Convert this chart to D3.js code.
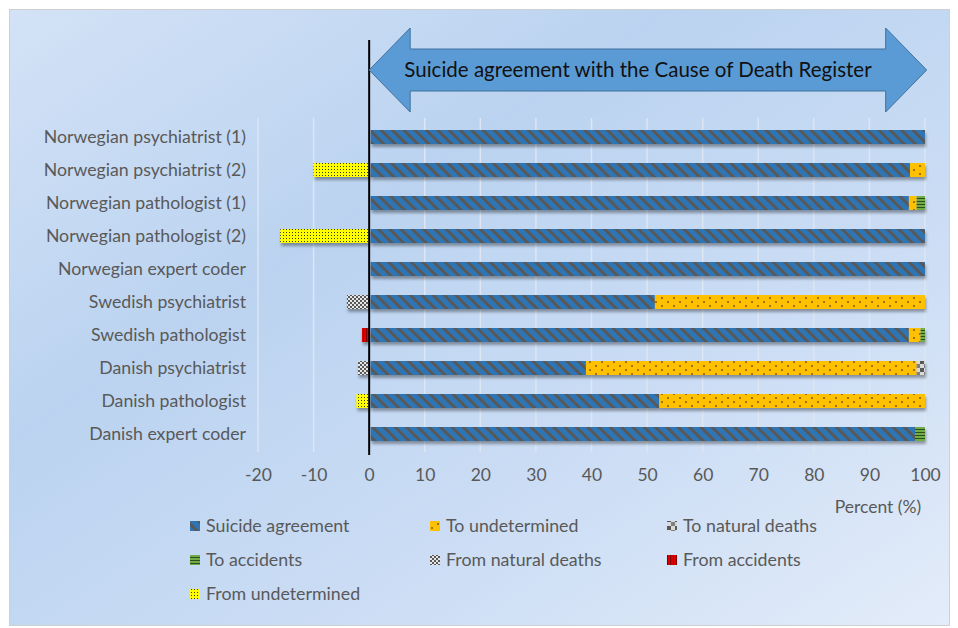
<!DOCTYPE html>
<html>
<head>
<meta charset="utf-8">
<script src="https://cdn.jsdelivr.net/npm/d3@7"></script>
<style>
  html, body { margin: 0; padding: 0; background: #ffffff; }
  svg { display: block; }
  text { font-family: Lato, "Open Sans", "Liberation Sans", sans-serif; }
</style>
</head>
<body>
<svg id="chart" width="958" height="628"></svg>
<script>
// ---------- DATA ----------
const categories = [
  "Norwegian psychiatrist (1)",
  "Norwegian psychiatrist (2)",
  "Norwegian pathologist (1)",
  "Norwegian pathologist (2)",
  "Norwegian expert coder",
  "Swedish psychiatrist",
  "Swedish pathologist",
  "Danish psychiatrist",
  "Danish pathologist",
  "Danish expert coder"
];
const suicideAgreement = [100, 97.3, 97.1, 100, 100, 51.4, 97.1, 39.0, 52.2, 98.2];
const toUndetermined   = [0, 2.7, 1.4, 0, 0, 48.6, 2.1, 59.5, 47.8, 0];
const toNaturalDeaths  = [0, 0, 0, 0, 0, 0, 0, 1.5, 0, 0];
const toAccidents      = [0, 0, 1.5, 0, 0, 0, 0.8, 0, 0, 1.8];
const fromNaturalDeaths = [0, 0, 0, 0, 0, -4, 0, -2, 0, 0];
const fromAccidents     = [0, 0, 0, 0, 0, 0, -1.3, 0, 0, 0];
const fromUndetermined  = [0, -10, 0, -16, 0, 0, 0, 0, -2.3, 0];
const seriesNames = ["Suicide agreement", "To undetermined", "To natural deaths",
  "To accidents", "From natural deaths", "From accidents", "From undetermined"];
const tickValues = [-20, -10, 0, 10, 20, 30, 40, 50, 60, 70, 80, 90, 100];
const xAxisTitle = "Percent (%)";
const arrowTitle = "Suicide agreement with the Cause of Death Register";

// ---------- SETUP ----------
const svg = d3.select("#chart");
const defs = svg.append("defs");

// background gradient
const bg = defs.append("linearGradient").attr("id", "bgGrad")
  .attr("x1", "0").attr("y1", "0").attr("x2", "1").attr("y2", "1");
bg.append("stop").attr("offset", "0").attr("stop-color", "#d3e2f6");
bg.append("stop").attr("offset", "0.35").attr("stop-color", "#bbd3f0");
bg.append("stop").attr("offset", "0.7").attr("stop-color", "#cddef5");
bg.append("stop").attr("offset", "1").attr("stop-color", "#e3ecf9");

// shadow
const f = defs.append("filter").attr("id", "shadow")
  .attr("x", "-10%").attr("y", "-50%").attr("width", "130%").attr("height", "250%");
f.append("feDropShadow").attr("dx", 1).attr("dy", 3).attr("stdDeviation", 1.4)
  .attr("flood-color", "#000").attr("flood-opacity", 0.35);

// patterns
function pat(id, w, h, bgColor, transform) {
  const p = defs.append("pattern").attr("id", id).attr("patternUnits", "userSpaceOnUse")
    .attr("width", w).attr("height", h);
  if (transform) p.attr("patternTransform", transform);
  p.append("rect").attr("width", w).attr("height", h).attr("fill", bgColor);
  return p;
}
// Suicide agreement: blue with dark diagonal stripes
pat("pSuicide", 8, 8, "#2e75b6", "rotate(-45)")
  .append("rect").attr("x", 0).attr("y", 0).attr("width", 3).attr("height", 8).attr("fill", "#595959");
// To undetermined: gold with sparse dots
{
  const p = pat("pToUnd", 12, 8, "#ffc000");
  p.append("circle").attr("cx", 2).attr("cy", 2).attr("r", 0.9).attr("fill", "#6b5200");
  p.append("circle").attr("cx", 8).attr("cy", 6).attr("r", 0.9).attr("fill", "#6b5200");
}
// To natural deaths: large checker
{
  const p = pat("pToNat", 8, 8, "#d9d9d9");
  p.append("rect").attr("x", 0).attr("y", 0).attr("width", 4).attr("height", 4).attr("fill", "#595959");
  p.append("rect").attr("x", 4).attr("y", 4).attr("width", 4).attr("height", 4).attr("fill", "#7f7f7f");
}
// To accidents: green with horizontal stripes
pat("pToAcc", 4, 3, "#70ad47")
  .append("rect").attr("x", 0).attr("y", 0).attr("width", 4).attr("height", 1).attr("fill", "#2f4f1e");
// From natural deaths: small checker
{
  const p = pat("pFromNat", 4, 4, "#e6e6e6");
  p.append("rect").attr("x", 0).attr("y", 0).attr("width", 2).attr("height", 2).attr("fill", "#595959");
  p.append("rect").attr("x", 2).attr("y", 2).attr("width", 2).attr("height", 2).attr("fill", "#595959");
}
// From accidents: red with vertical stripes
pat("pFromAcc", 3, 4, "#e00000")
  .append("rect").attr("x", 0).attr("y", 0).attr("width", 1).attr("height", 4).attr("fill", "#7a0000");
// From undetermined: yellow with dense dots
pat("pFromUnd", 3, 3, "#ffff00")
  .append("rect").attr("x", 1).attr("y", 1).attr("width", 1).attr("height", 1).attr("fill", "#3a3a00");

const fills = ["url(#pSuicide)", "url(#pToUnd)", "url(#pToNat)", "url(#pToAcc)",
  "url(#pFromNat)", "url(#pFromAcc)", "url(#pFromUnd)"];

// panel
svg.append("rect").attr("x", 9.5).attr("y", 9.5).attr("width", 940).attr("height", 616)
  .attr("fill", "url(#bgGrad)").attr("stroke", "#d0d0d0").attr("stroke-width", 1);

// scales
const x = d3.scaleLinear().domain([-20, 100]).range([258, 925]);
const y = d3.scalePoint().domain(categories).range([120.5, 450.5]).padding(0.5);
const barH = 14;

// gridlines
svg.append("g").selectAll("line").data(tickValues.filter(d => d !== 0)).join("line")
  .attr("x1", d => x(d)).attr("x2", d => x(d))
  .attr("y1", 118).attr("y2", 452)
  .attr("stroke", "#dde6f2").attr("stroke-width", 1.5);

// stacked data
const rows = categories.map((c, i) => ({
  cat: c,
  "Suicide agreement": suicideAgreement[i],
  "To undetermined": toUndetermined[i],
  "To natural deaths": toNaturalDeaths[i],
  "To accidents": toAccidents[i],
  "From natural deaths": fromNaturalDeaths[i],
  "From accidents": fromAccidents[i],
  "From undetermined": fromUndetermined[i]
}));
const stacked = d3.stack().keys(seriesNames).offset(d3.stackOffsetDiverging)(rows);

const barsG = svg.append("g").attr("filter", "url(#shadow)");
stacked.forEach((s, si) => {
  barsG.append("g").attr("fill", fills[si])
    .selectAll("rect").data(s.filter(d => d[1] !== d[0])).join("rect")
    .attr("x", d => x(Math.min(d[0], d[1])) + (si === 0 ? 1.5 : 0))
    .attr("width", d => Math.abs(x(d[1]) - x(d[0])) - (si === 0 ? 1.5 : 0))
    .attr("y", d => y(d.data.cat) - barH / 2)
    .attr("height", barH);
});

// zero line
svg.append("line").attr("x1", x(0)).attr("x2", x(0)).attr("y1", 40).attr("y2", 455)
  .attr("stroke", "#000").attr("stroke-width", 2);

// category labels
svg.append("g").selectAll("text").data(categories).join("text")
  .attr("x", 246).attr("y", d => y(d)).attr("dy", "0.35em")
  .attr("text-anchor", "end").attr("font-size", 17.7).attr("fill", "#595959")
  .text(d => d);

// x axis tick labels
const xAxis = d3.axisBottom(x).tickValues(tickValues).tickSize(0).tickPadding(0)
  .tickFormat(d => d.toString());
const axG = svg.append("g").attr("transform", "translate(0,469)").call(xAxis);
axG.select(".domain").remove();
axG.selectAll("text").attr("font-size", 17.5).attr("fill", "#595959")
  .attr("font-family", "Lato, 'Open Sans', sans-serif");

svg.append("text").attr("x", 878).attr("y", 513).attr("text-anchor", "middle")
  .attr("font-size", 17.5).attr("fill", "#595959").text(xAxisTitle);

// arrow
const ax0 = x(0), ax1 = x(100.3);
const head = 41, yT = 28, yB = 112, sT = 49, sB = 91, yc = 70;
const arrowPts = [
  [ax0, yc], [ax0 + head, yT], [ax0 + head, sT], [ax1 - head, sT], [ax1 - head, yT],
  [ax1, yc], [ax1 - head, yB], [ax1 - head, sB], [ax0 + head, sB], [ax0 + head, yB]
];
svg.append("polygon").attr("points", arrowPts.map(p => p.join(",")).join(" "))
  .attr("fill", "#5b9bd5").attr("stroke", "#41719c").attr("stroke-width", 1);
svg.append("text").attr("x", 638).attr("y", yc).attr("dy", "0.35em")
  .attr("text-anchor", "middle").attr("font-size", 20.5).attr("fill", "#111")
  .text(arrowTitle);

// legend
const legCols = [190, 430, 667], legRows = [526, 560, 594];
const leg = svg.append("g").selectAll("g").data(seriesNames).join("g")
  .attr("transform", (d, i) => `translate(${legCols[i % 3]},${legRows[Math.floor(i / 3)]})`);
leg.append("rect").attr("x", 0).attr("y", -5).attr("width", 10).attr("height", 10)
  .attr("fill", (d, i) => fills[i]);
leg.append("text").attr("x", 16).attr("y", 0).attr("dy", "0.35em")
  .attr("font-size", 17.8).attr("fill", "#595959").text(d => d);
</script>
</body>
</html>
